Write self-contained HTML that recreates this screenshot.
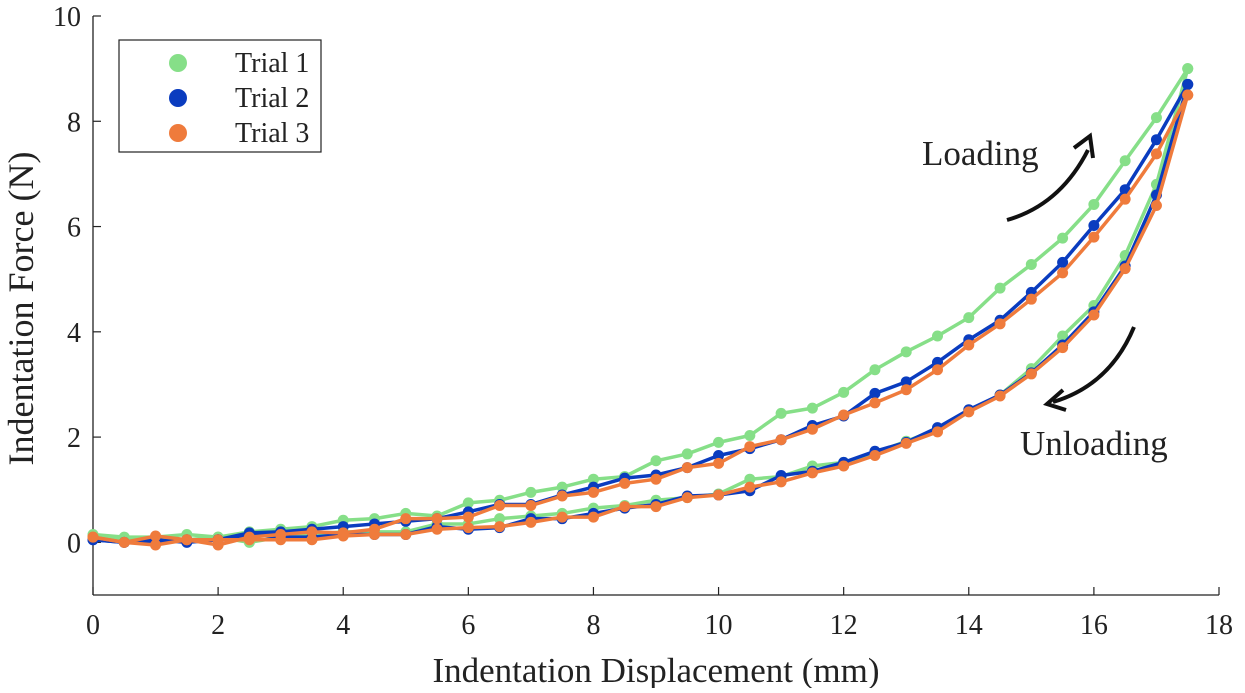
<!DOCTYPE html>
<html><head><meta charset="utf-8">
<style>
body{margin:0;background:#fff;}
svg text{font-family:"Liberation Serif",serif;fill:#222;}
</style></head>
<body>
<svg id="chart" width="1245" height="688" viewBox="0 0 1245 688" xmlns="http://www.w3.org/2000/svg"></svg>
<script>
const xLoad = [0,0.5,1,1.5,2,2.5,3,3.5,4,4.5,5,5.5,6,6.5,7,7.5,8,8.5,9,9.5,10,10.5,11,11.5,12,12.5,13,13.5,14,14.5,15,15.5,16,16.5,17,17.5];
const t1Load = [0.15,0.1,0.1,0.15,0.1,0.2,0.25,0.3,0.42,0.45,0.55,0.5,0.75,0.8,0.95,1.05,1.2,1.25,1.55,1.68,1.9,2.03,2.45,2.55,2.85,3.28,3.62,3.92,4.27,4.83,5.28,5.78,6.42,7.25,8.07,9.0];
const t1Unload = [0.1,0.05,0.05,0.05,0.1,0.0,0.1,0.15,0.2,0.2,0.2,0.35,0.35,0.45,0.5,0.55,0.65,0.7,0.8,0.85,0.92,1.2,1.25,1.45,1.52,1.7,1.92,2.15,2.5,2.8,3.3,3.92,4.5,5.45,6.8,9.0];
const t2Load = [0.05,0.0,0.0,0.05,0.05,0.18,0.2,0.25,0.3,0.35,0.4,0.45,0.58,0.72,0.72,0.9,1.05,1.22,1.28,1.42,1.65,1.78,1.95,2.22,2.4,2.83,3.05,3.42,3.85,4.22,4.75,5.32,6.02,6.7,7.65,8.7];
const t2Unload = [0.05,0.0,0.05,0.0,0.05,0.15,0.1,0.1,0.15,0.15,0.15,0.3,0.25,0.28,0.45,0.45,0.55,0.65,0.72,0.88,0.9,0.98,1.27,1.35,1.52,1.73,1.9,2.18,2.52,2.8,3.22,3.75,4.38,5.25,6.6,8.7];
const t3Load = [0.1,0.0,-0.05,0.05,-0.05,0.1,0.15,0.2,0.18,0.25,0.45,0.45,0.48,0.7,0.7,0.88,0.95,1.12,1.2,1.42,1.5,1.82,1.95,2.15,2.42,2.65,2.9,3.28,3.75,4.15,4.62,5.12,5.8,6.52,7.38,8.5];
const t3Unload = [0.1,0.0,0.12,0.05,0.05,0.05,0.05,0.05,0.12,0.15,0.15,0.25,0.28,0.3,0.38,0.48,0.48,0.68,0.68,0.85,0.9,1.05,1.15,1.32,1.45,1.65,1.88,2.1,2.48,2.78,3.2,3.7,4.32,5.2,6.4,8.5];
const xTicks = [0,2,4,6,8,10,12,14,16,18];
const yTicks = [0,2,4,6,8,10];
const seriesNames = ["Trial 1","Trial 2","Trial 3"];
const colors = ["#86df88","#0a3cbf","#ef7b3c"];

const X0=93,X1=1219,Y0=595,Y1=16;
const sx=v=>X0+(v-0)/(18-0)*(X1-X0);
const sy=v=>Y0-(v-(-1))/(10-(-1))*(Y0-Y1);
const svg=document.getElementById('chart');
const NS="http://www.w3.org/2000/svg";
function mk(tag,attrs,parent){const e=document.createElementNS(NS,tag);for(const k in attrs)e.setAttribute(k,attrs[k]);(parent||svg).appendChild(e);return e;}

const ax=mk('g',{});


mk('line',{x1:X0,y1:Y1,x2:X0,y2:Y0,stroke:'#222','stroke-width':1.3},ax);
mk('line',{x1:X0,y1:Y0,x2:X1,y2:Y0,stroke:'#222','stroke-width':1.3},ax);
xTicks.forEach(t=>{
  mk('line',{x1:sx(t),y1:Y0,x2:sx(t),y2:Y0-8,stroke:'#222','stroke-width':1.2},ax);
  const tx=mk('text',{x:sx(t),y:Y0+39,'text-anchor':'middle','font-size':28},ax);
  tx.textContent=t;
  
  
});
yTicks.forEach(t=>{
  mk('line',{x1:X0,y1:sy(t),x2:X0+8,y2:sy(t),stroke:'#222','stroke-width':1.2},ax);
  const tx=mk('text',{x:X0-12,y:sy(t)+10,'text-anchor':'end','font-size':28},ax);
  tx.textContent=t;
  
  
});
const xt=mk('text',{x:(X0+X1)/2,y:682,'text-anchor':'middle','font-size':35});
xt.textContent='Indentation Displacement (mm)';


const yt=mk('text',{x:0,y:0,'text-anchor':'middle','font-size':36,transform:`translate(33,${(Y0+Y1)/2+3}) rotate(-90)`});
yt.textContent='Indentation Force (N)';



const data=[[t1Load,t1Unload],[t2Load,t2Unload],[t3Load,t3Unload]];
data.forEach((d,i)=>{
  const g=mk('g',{});
  
  
  d.forEach(arr=>{
    mk('polyline',{points:xLoad.map((x,j)=>sx(x)+','+sy(arr[j])).join(' '),fill:'none',stroke:colors[i],'stroke-width':3.5,'stroke-linejoin':'round'},g);
  });
  d.forEach(arr=>{
    xLoad.forEach((x,j)=>{
      const c=mk('circle',{cx:sx(x),cy:sy(arr[j]),r:5.5,fill:colors[i]},g);
      
      
    });
  });
});

const lg=mk('g',{});


mk('rect',{x:119,y:40,width:202,height:112,fill:'#fff',stroke:'#222','stroke-width':1.2},lg);
seriesNames.forEach((n,i)=>{
  const e=mk('g',{},lg);
  
  
  mk('circle',{cx:178,cy:63+i*35,r:9,fill:colors[i]},e);
  const t=mk('text',{x:235,y:72+i*35,'font-size':28},e);
  t.textContent=n;
});

const an=mk('g',{});


mk('path',{d:'M1007,220 Q1060,205 1088,150',fill:'none',stroke:'#111','stroke-width':4},an);
mk('path',{d:'M1074,148 L1090,136 L1093,158',fill:'none',stroke:'#111','stroke-width':4,'stroke-linejoin':'miter'},an);
mk('path',{d:'M1134,327 Q1110,385 1053,402',fill:'none',stroke:'#111','stroke-width':4},an);
mk('path',{d:'M1063,390 L1047,404 L1066,410',fill:'none',stroke:'#111','stroke-width':4},an);
const l1=mk('text',{x:922,y:165,'font-size':35},an);l1.textContent='Loading';


const l2=mk('text',{x:1020,y:455,'font-size':35},an);l2.textContent='Unloading';


</script>
</body></html>
